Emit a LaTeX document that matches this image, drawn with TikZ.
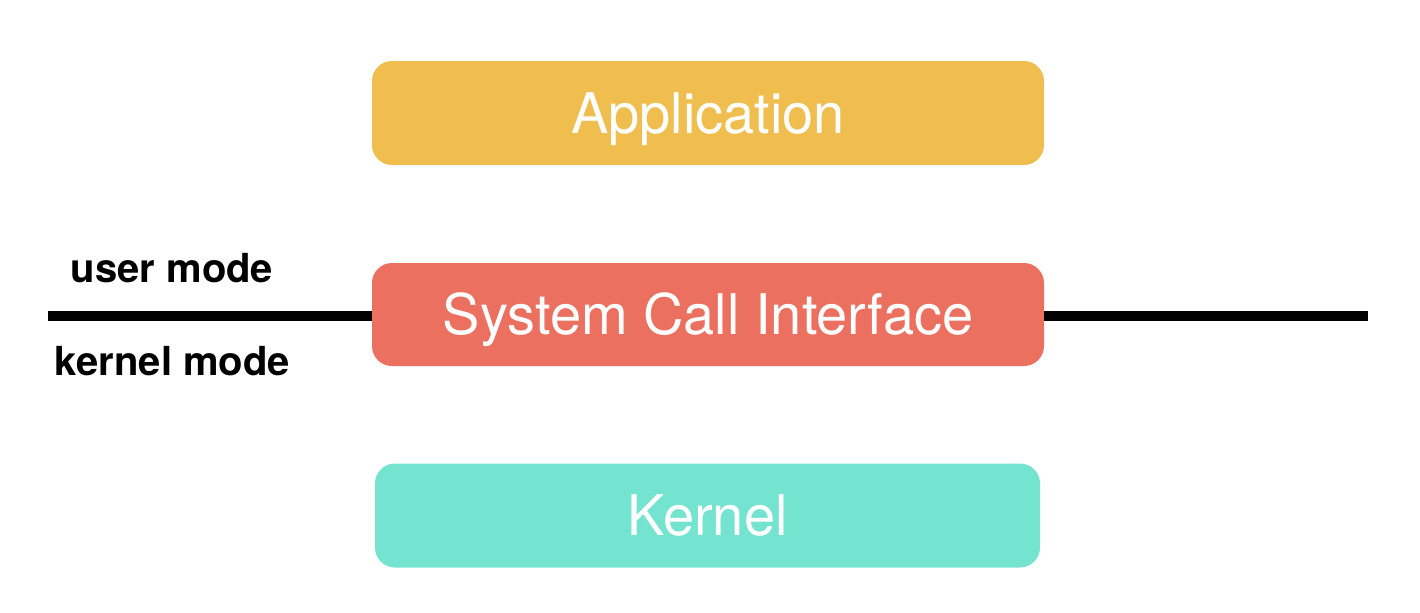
\documentclass[tikz,border=0pt]{standalone}
\usepackage{fontspec}
\setmainfont{TeX Gyre Heros}
\usetikzlibrary{positioning}
\definecolor{appcol}{HTML}{EFBE4F}
\definecolor{syscol}{HTML}{EB705F}
\definecolor{kercol}{HTML}{74E3D0}

\begin{document}
\begin{tikzpicture}[x=0.5pt, y=-0.5pt,
    layer/.style={rounded corners=10pt, minimum width=336pt, minimum height=52pt,
      inner sep=0pt, text=white, font=\fontsize{28}{30}\selectfont,
      text height=20pt, text depth=0pt},
    mode/.style={font=\fontsize{20}{24}\selectfont\bfseries}]
    \useasboundingbox (0,0) rectangle (1420,612);
    \node[layer, fill=appcol] (app) at (708,113) {Application};
    \node[layer, fill=syscol, minimum height=51.5pt] (sys) at (708,314.5) {System Call Interface};
    \node[layer, fill=kercol, minimum width=332.5pt] (ker) at (707.5,515.5) {Kernel};
    % boundary line
    \coordinate (l) at (48,316);
    \coordinate (r) at (1368,316);
    \draw[line width=5pt] (l) -- (l -| sys.west);
    \draw[line width=5pt] (r -| sys.east) -- (r);
    % mode labels
    \node[mode] (user) at (172,268) {user mode};
    \node[mode] (kern) at (172.5,361.5) {kernel mode};
  \end{tikzpicture}
\end{document}
